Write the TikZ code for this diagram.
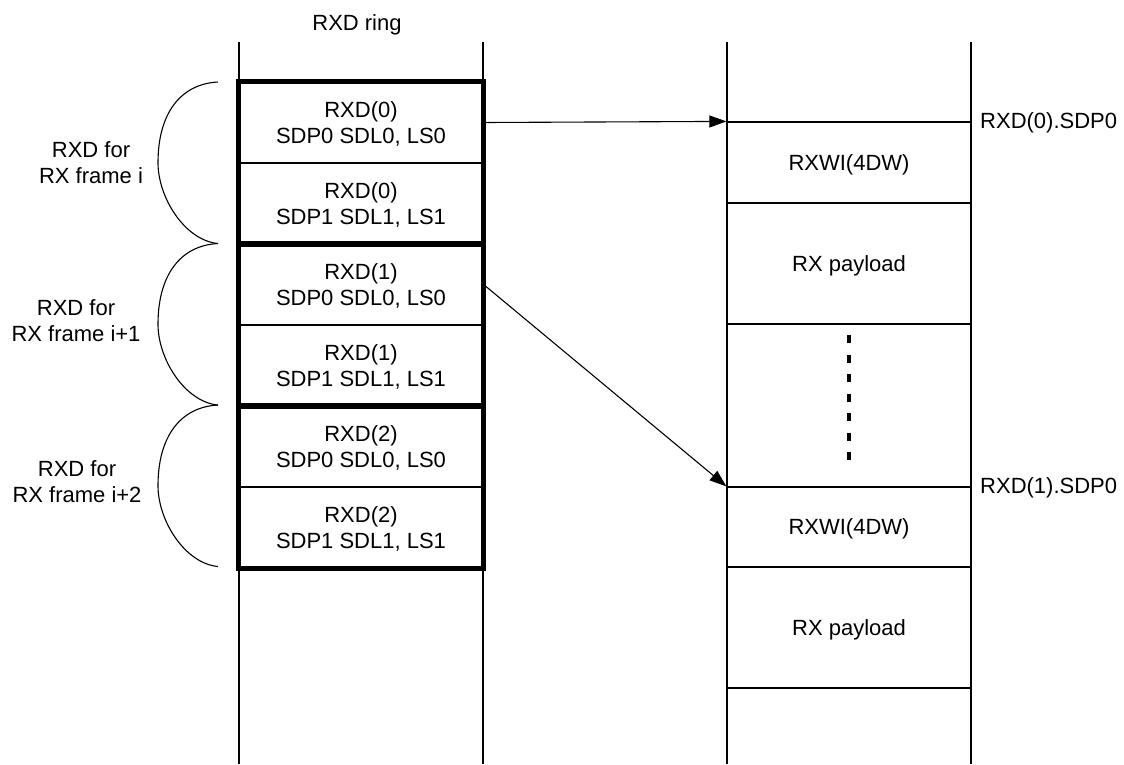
\documentclass[tikz,border=0pt]{standalone}
\usepackage{fontspec}
\setmainfont{Liberation Sans}
\usetikzlibrary{arrows.meta}
\begin{document}
\begin{tikzpicture}[x=1pt,y=-1pt,
  every node/.style={font=\fontsize{22}{26}\selectfont, inner sep=0pt},
  thin line/.style={line width=1.2pt, draw=black},
  cellbox/.style={thin line, rectangle, minimum width=244pt, text depth=0pt, align=center},
  thickbox/.style={line width=4.5pt, draw=black},
  ptr/.style={line width=1.1pt, -{Triangle[length=17pt,width=12pt]}},
  lbl/.style={align=center, text depth=0pt},
  bracecurve/.style={line width=1.1pt}
]
\useasboundingbox (0,0) rectangle (1124,764);

% column lines
\draw[thin line] (239,42) -- (239,764);
\draw[thin line] (483,42) -- (483,764);
\draw[thin line] (727,42) -- (727,764);
\draw[thin line] (971,42) -- (971,764);

\node[anchor=base] (ring) at (357,30) {RXD ring};

% left cells
\node[cellbox, minimum height=81pt] (c1) at (361,122.5) {RXD(0)\\SDP0 SDL0, LS0};
\node[cellbox, minimum height=81pt] (c2) at (361,203.5) {RXD(0)\\SDP1 SDL1, LS1};
\node[cellbox, minimum height=81pt] (c3) at (361,284.5) {RXD(1)\\SDP0 SDL0, LS0};
\node[cellbox, minimum height=81pt] (c4) at (361,365.5) {RXD(1)\\SDP1 SDL1, LS1};
\node[cellbox, minimum height=81pt] (c5) at (361,446.5) {RXD(2)\\SDP0 SDL0, LS0};
\node[cellbox, minimum height=81pt] (c6) at (361,527.5) {RXD(2)\\SDP1 SDL1, LS1};

\draw[thickbox] (c1.north west) rectangle (c2.south east);
\draw[thickbox] (c3.north west) rectangle (c4.south east);
\draw[thickbox] (c5.north west) rectangle (c6.south east);

% right cells
\node[cellbox, minimum height=81pt] (r1) at (849,162.5) {RXWI(4DW)};
\node[cellbox, minimum height=121pt] (r2) at (849,263.5) {RX payload};
\node[cellbox, minimum height=163pt] (r3) at (849,405.5) {};
\node[cellbox, minimum height=80pt] (r4) at (849,527) {RXWI(4DW)};
\node[cellbox, minimum height=121pt] (r5) at (849,627.5) {RX payload};

\draw[line width=4pt, dash pattern=on 8pt off 11.5pt] (848.5,335) -- (848.5,461);

% right labels
\node[anchor=base west] (s0) at (980,128) {RXD(0).SDP0};
\node[anchor=base west] (s1) at (980,493) {RXD(1).SDP0};

% pointers
\draw[ptr] (c1.east) -- (r1.north west);
\draw[ptr] (c3.east) -- (r4.north west);

% braces
\foreach \t in {82,243.5,405} {
  \pgfmathsetmacro{\m}{\t+80.75}
  \pgfmathsetmacro{\b}{\t+161.5}
  \draw[bracecurve] (218,\t) .. controls (180,\t+2) and (158,\t+32) .. (158,\m)
                             .. controls (158,\m+35) and (185,\b-3) .. (218,\b);
}

% left labels
\node[lbl] (f0) at (91,163) {RXD for\\RX frame i};
\node[lbl] (f1) at (76,321) {RXD for\\RX frame i+1};
\node[lbl] (f2) at (77,482) {RXD for\\RX frame i+2};
\end{tikzpicture}
\end{document}
